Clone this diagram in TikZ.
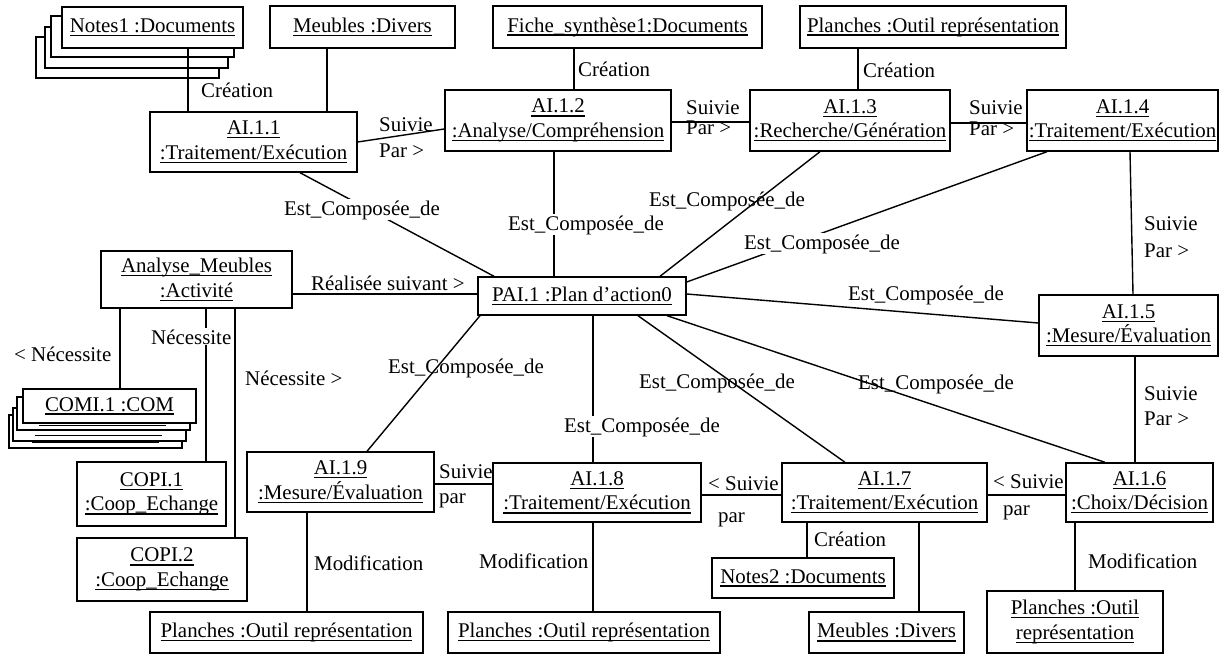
\documentclass[tikz,border=0pt]{standalone}
\usepackage{fontspec}
\setmainfont{Liberation Serif}
\newcommand\fz{\fontsize{20.9}{24.5}\selectfont}
\newcommand\ulx[1]{\setbox0\hbox{#1}\rlap{\vrule height -2.3pt depth 3.6pt width \wd0}\box0}
\begin{document}
\begin{tikzpicture}[x=1pt,y=-1pt,
  box/.style={draw, line width=1.4pt, fill=white, inner sep=0pt, align=center, font=\fz},
  lbl/.style={inner sep=1pt, font=\fz, anchor=base west},
  wl/.style={lbl, fill=white},
  ln/.style={line width=1.4pt}]
\useasboundingbox (0,0) rectangle (1228,655);
% ---- boxes
\node[box, minimum width=183, minimum height=41] (n1c) at (127.5,57.5) {};
\node[box, minimum width=183, minimum height=41] (n1b) at (136.5,47.5) {};
\node[box, minimum width=183, minimum height=41] (n1a) at (142.5,36.5) {};
\node[box, minimum width=181, minimum height=41] (notes1) at (152.5,27.5) {\ulx{Notes1 :Documents}};
\node[box, minimum width=185, minimum height=42] (meub1) at (362.5,27) {\ulx{Meubles :Divers}};
\node[box, minimum width=207, minimum height=60] (a11) at (253.5,142) {\ulx{AI.1.1}\\\ulx{:Traitement/Exécution}};
\node[box, minimum width=226, minimum height=61] (a12) at (558,120.5) {\ulx{AI.1.2}\\\ulx{:Analyse/Compréhension}};
\node[box, minimum width=269, minimum height=42] (fiche) at (627.5,27) {\ulx{Fiche\_synthèse1:Documents}};
\node[box, minimum width=200, minimum height=61] (a13) at (850,120.5) {\ulx{AI.1.3}\\\ulx{:Recherche/Génération}};
\node[box, minimum width=266, minimum height=42] (planT) at (933,27) {\ulx{Planches :Outil représentation}};
\node[box, minimum width=191, minimum height=61] (a14) at (1122.5,120.5) {\ulx{AI.1.4}\\\ulx{:Traitement/Exécution}};
\node[box, minimum width=179, minimum height=61] (a15) at (1128.5,325.5) {\ulx{AI.1.5}\\\ulx{:Mesure/Évaluation}};
\node[box, minimum width=147, minimum height=59] (a16) at (1139.5,492.5) {\ulx{AI.1.6}\\\ulx{:Choix/Décision}};
\node[box, minimum width=205, minimum height=59] (a17) at (884.5,492.5) {\ulx{AI.1.7}\\\ulx{:Traitement/Exécution}};
\node[box, minimum width=208, minimum height=59] (a18) at (597,492.5) {\ulx{AI.1.8}\\\ulx{:Traitement/Exécution}};
\node[box, minimum width=187, minimum height=60] (a19) at (340.5,482) {\ulx{AI.1.9}\\\ulx{:Mesure/Évaluation}};
\node[box, minimum width=273, minimum height=41] (planB1) at (286.5,632.5) {\ulx{Planches :Outil représentation}};
\node[box, minimum width=272, minimum height=41] (planB2) at (584,632.5) {\ulx{Planches :Outil représentation}};
\node[box, minimum width=182, minimum height=40] (notes2) at (803,578) {\ulx{Notes2 :Documents}};
\node[box, minimum width=155, minimum height=41] (meubB) at (886.5,632.5) {\ulx{Meubles :Divers}};
\node[box, minimum width=176, minimum height=62] (planB3) at (1075,622) {\ulx{Planches :Outil}\\\ulx{représentation}};
\node[box, minimum width=208, minimum height=38] (pai) at (582,296) {\ulx{PAI.1 :Plan d’action0}};
\node[box, minimum width=191, minimum height=57] (anal) at (196.5,279.5) {\ulx{Analyse\_Meubles}\\\ulx{:Activité}};
\node[box, minimum width=173, minimum height=33] (comic) at (95.5,431.5) {};
\node[box, minimum width=173, minimum height=33] (comib) at (99.5,424.5) {};
\node[box, minimum width=173, minimum height=33] (comia) at (103.5,413.5) {};
\node[box, minimum width=173, minimum height=34] (comi) at (109.5,406) {\ulx{COMI.1 :COM}};
\node[box, minimum width=149, minimum height=64] (copi1) at (151.5,494) {\ulx{COPI.1}\\\ulx{:Coop\_Echange}};
\node[box, minimum width=170, minimum height=63] (copi2) at (162,569.5) {\ulx{COPI.2}\\\ulx{:Coop\_Echange}};
% underlines of the stacked COMI boxes
\draw[line width=1.3pt] (comia.south west) ++(23,-5) -- ++(127,0);
\draw[line width=1.3pt] (comib.south west) ++(23,-6) -- ++(127,0);
\draw[line width=1.3pt] (comic.south west) ++(24,-6) -- ++(127,0);
% ---- connectors
\draw[ln] (notes1.south -| 188,0) -- (a11.north -| 188,0);
\draw[ln] (meub1.south -| 327,0) -- (a11.north -| 327,0);
\draw[ln] (a11.east) -- (a12.west |- 0,129);
\draw[ln] (fiche.south -| 574,0) -- (a12.north -| 574,0);
\draw[ln] (a12.east |- 0,122) -- (a13.west |- 0,122);
\draw[ln] (planT.south -| 858,0) -- (a13.north -| 858,0);
\draw[ln] (a13.east |- 0,123) -- (a14.west |- 0,123);
\draw[ln] (a14.south -| 1130,0) -- (a15.north -| 1133,0);
\draw[ln] (a15.south -| 1135,0) -- (a16.north -| 1135,0);
\draw[ln] (a17.east |- 0,495) -- (a16.west |- 0,495);
\draw[ln] (a18.east |- 0,495) -- (a17.west |- 0,495);
\draw[ln] (a19.east |- 0,484) -- (a18.west |- 0,484);
\draw[ln] (a19.south -| 307,0) -- (planB1.north -| 307,0);
\draw[ln] (a18.south -| 593,0) -- (planB2.north -| 593,0);
\draw[ln] (a17.south -| 807,0) -- (notes2.north -| 807,0);
\draw[ln] (a17.south -| 919,0) -- (meubB.north -| 919,0);
\draw[ln] (a16.south -| 1075,0) -- (planB3.north -| 1075,0);
\draw[ln] (anal.east |- 0,294) -- (pai.west |- 0,294);
\draw[ln] (anal.south -| 120,0) -- (comi.north -| 120,0);
\draw[ln] (anal.south -| 206,0) -- (copi1.north -| 206,0);
\draw[ln] (anal.south -| 235,0) -- (copi2.north -| 235,0);
\draw[ln] (a11.south -| 300,0) -- (pai.north -| 494,0);
\draw[ln] (a12.south -| 554,0) -- (pai.north -| 554,0);
\draw[ln] (a13.south -| 820,0) -- (pai.north -| 660,0);
\draw[ln] (a14.south -| 1047,0) -- (pai.east |- 0,282);
\draw[ln] (pai.east |- 0,294) -- (a15.west |- 0,323);
\draw[ln] (pai.south -| 667,0) -- (a16.north -| 1105,0);
\draw[ln] (pai.south -| 638,0) -- (a17.north -| 845,0);
\draw[ln] (pai.south -| 593,0) -- (a18.north -| 593,0);
\draw[ln] (pai.south -| 480,0) -- (a19.north -| 367,0);
% ---- labels
\node[lbl] (l1) at (200,98) {Création};
\node[lbl] (l2) at (378,132) {Suivie};
\node[lbl] (l3) at (378,158) {Par >};
\node[wl] (l4) at (283,215) {Est\_Composée\_de};
\node[lbl] (l5) at (577,77) {Création};
\node[lbl] (l6) at (685,115) {Suivie};
\node[lbl] (l7) at (685,135) {Par >};
\node[wl] (l8) at (507,230) {Est\_Composée\_de};
\node[lbl] (l9) at (862,78) {Création};
\node[lbl] (l10) at (968,115) {Suivie};
\node[lbl] (l11) at (968,136) {Par >};
\node[lbl] (l12) at (648,207) {Est\_Composée\_de};
\node[wl] (l13) at (743,249) {Est\_Composée\_de};
\node[lbl] (l14) at (1143,230) {Suivie};
\node[lbl] (l15) at (1143,257) {Par >};
\node[lbl] (l16) at (847,300) {Est\_Composée\_de};
\node[lbl] (l17) at (310,290) {Réalisée suivant >};
\node[lbl] (l18) at (13,361) {< Nécessite};
\node[wl] (l19) at (150,344) {Nécessite};
\node[lbl] (l20) at (244,385) {Nécessite >};
\node[lbl] (l21) at (387,373) {Est\_Composée\_de};
\node[wl] (l22) at (563,432) {Est\_Composée\_de};
\node[lbl] (l23) at (638,388) {Est\_Composée\_de};
\node[lbl] (l24) at (857,389) {Est\_Composée\_de};
\node[lbl] (l25) at (438,478) {Suivie};
\node[lbl] (l26) at (438,503) {par};
\node[lbl] (l27) at (707,490) {< Suivie};
\node[lbl] (l28) at (717,522) {par};
\node[lbl] (l29) at (992,488) {< Suivie};
\node[lbl] (l30) at (1002,515) {par};
\node[lbl] (l31) at (1143,400) {Suivie};
\node[lbl] (l32) at (1143,425) {Par >};
\node[lbl] (l33) at (313,570) {Modification};
\node[lbl] (l34) at (478,568) {Modification};
\node[lbl] (l35) at (813,546) {Création};
\node[lbl] (l36) at (1087,568) {Modification};
\end{tikzpicture}
\end{document}
